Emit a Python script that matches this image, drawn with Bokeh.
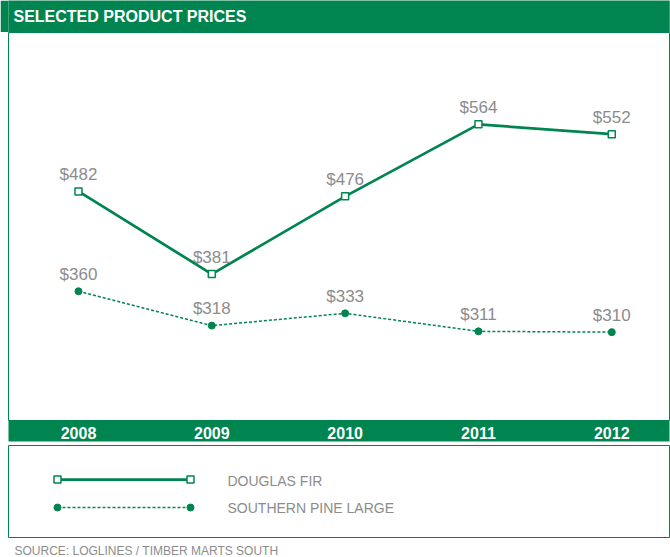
from bokeh.plotting import figure
from bokeh.models import Range1d, FixedTicker, Label
from bokeh.layouts import column
from bokeh.embed import file_html
from bokeh.resources import INLINE
from bokeh.core.properties import value
from bokeh.core.validation import silence
from bokeh.core.validation.warnings import MISSING_RENDERERS

silence(MISSING_RENDERERS, True)

# ---- data ----
years = [2008, 2009, 2010, 2011, 2012]
douglas_fir = [482, 381, 476, 564, 552]
southern_pine = [360, 318, 333, 311, 310]
series_names = ["DOUGLAS FIR", "SOUTHERN PINE LARGE"]
title_text = "SELECTED PRODUCT PRICES"
source_text = "SOURCE: LOGLINES / TIMBER MARTS SOUTH"

# ---- style ----
GREEN = "#008450"
GRAY = "#8c8c8c"
FONT = "Liberation Sans"
W = 670


def band(height, fill):
    f = figure(width=W, height=height, output_backend="svg", toolbar_location=None,
               min_border=0, x_range=Range1d(0, 1), y_range=Range1d(0, 1),
               x_axis_location=None, y_axis_location=None,
               background_fill_color=fill, border_fill_color=fill,
               outline_line_color=None)
    f.grid.visible = False
    return f


# header band
header = band(32, GREEN)
header.add_layout(Label(x=5, y=16, x_units="screen", y_units="screen", text=title_text,
                        text_color="white", text_font=FONT, text_font_style="bold",
                        text_font_size="16px", text_baseline="middle"))

# main chart
p = figure(width=W, height=413, output_backend="svg", toolbar_location=None,
           x_range=Range1d(2007.475, 2012.433), y_range=Range1d(202, 676.3),
           min_border_left=8, min_border_right=1, min_border_top=0, min_border_bottom=25,
           y_axis_location=None, outline_line_color=GREEN, outline_line_width=1,
           background_fill_color="white", border_fill_color="white")
p.grid.visible = False
ax = p.xaxis[0]
ax.ticker = FixedTicker(ticks=years)
ax.axis_line_color = None
ax.major_tick_line_color = None
ax.minor_tick_line_color = None
ax.major_label_text_color = "white"
ax.major_label_text_font = FONT
ax.major_label_text_font_style = "bold"
ax.major_label_text_font_size = "16px"
ax.major_label_standoff = 0
ax.background_fill_color = GREEN

p.line(years, douglas_fir, line_color=GREEN, line_width=2.75)
p.scatter(years, douglas_fir, marker="square", size=7, fill_color="white",
          line_color=GREEN, line_width=1.5)
p.line(years, southern_pine, line_color=GREEN, line_width=1.5, line_dash="3 2")
p.scatter(years, southern_pine, marker="circle", size=7, fill_color=GREEN, line_color=GREEN)

for vals in (douglas_fir, southern_pine):
    p.text(x=years, y=vals, text=[f"${v}" for v in vals], text_align="center",
           text_baseline="alphabetic", y_offset=-17, text_font=value(FONT),
           text_font_size="17px", text_color=GRAY)

# legend panel
key_x = [49, 182]
key_y = [34, 62]
label_x = 219
lg = figure(width=W, height=93, output_backend="svg", toolbar_location=None,
            x_range=Range1d(0, 661), y_range=Range1d(92, 0),
            min_border_left=8, min_border_right=1, min_border_top=0, min_border_bottom=1,
            x_axis_location=None, y_axis_location=None,
            outline_line_color=GREEN, outline_line_width=1)
lg.grid.visible = False
lg.line(key_x, [key_y[0]] * 2, line_color=GREEN, line_width=2.75)
lg.scatter(key_x, [key_y[0]] * 2, marker="square", size=7, fill_color="white",
           line_color=GREEN, line_width=1.5)
lg.line(key_x, [key_y[1]] * 2, line_color=GREEN, line_width=1.5, line_dash="3 2")
lg.scatter(key_x, [key_y[1]] * 2, marker="circle", size=7, fill_color=GREEN, line_color=GREEN)
lg.text(x=[label_x] * 2, y=[key_y[0] + 1.5, key_y[1]], text=series_names,
        text_baseline="middle", text_font=value(FONT), text_font_size="14px",
        text_color=GRAY)

# source line
src = band(19, "white")
src.add_layout(Label(x=6, y=7, x_units="screen", y_units="screen", text=source_text,
                     text_font_size="12px", text_font=FONT, text_color=GRAY,
                     text_baseline="middle"))

layout = column(header, p, lg, src)
open("out.html", "w").write(file_html(layout, INLINE))
